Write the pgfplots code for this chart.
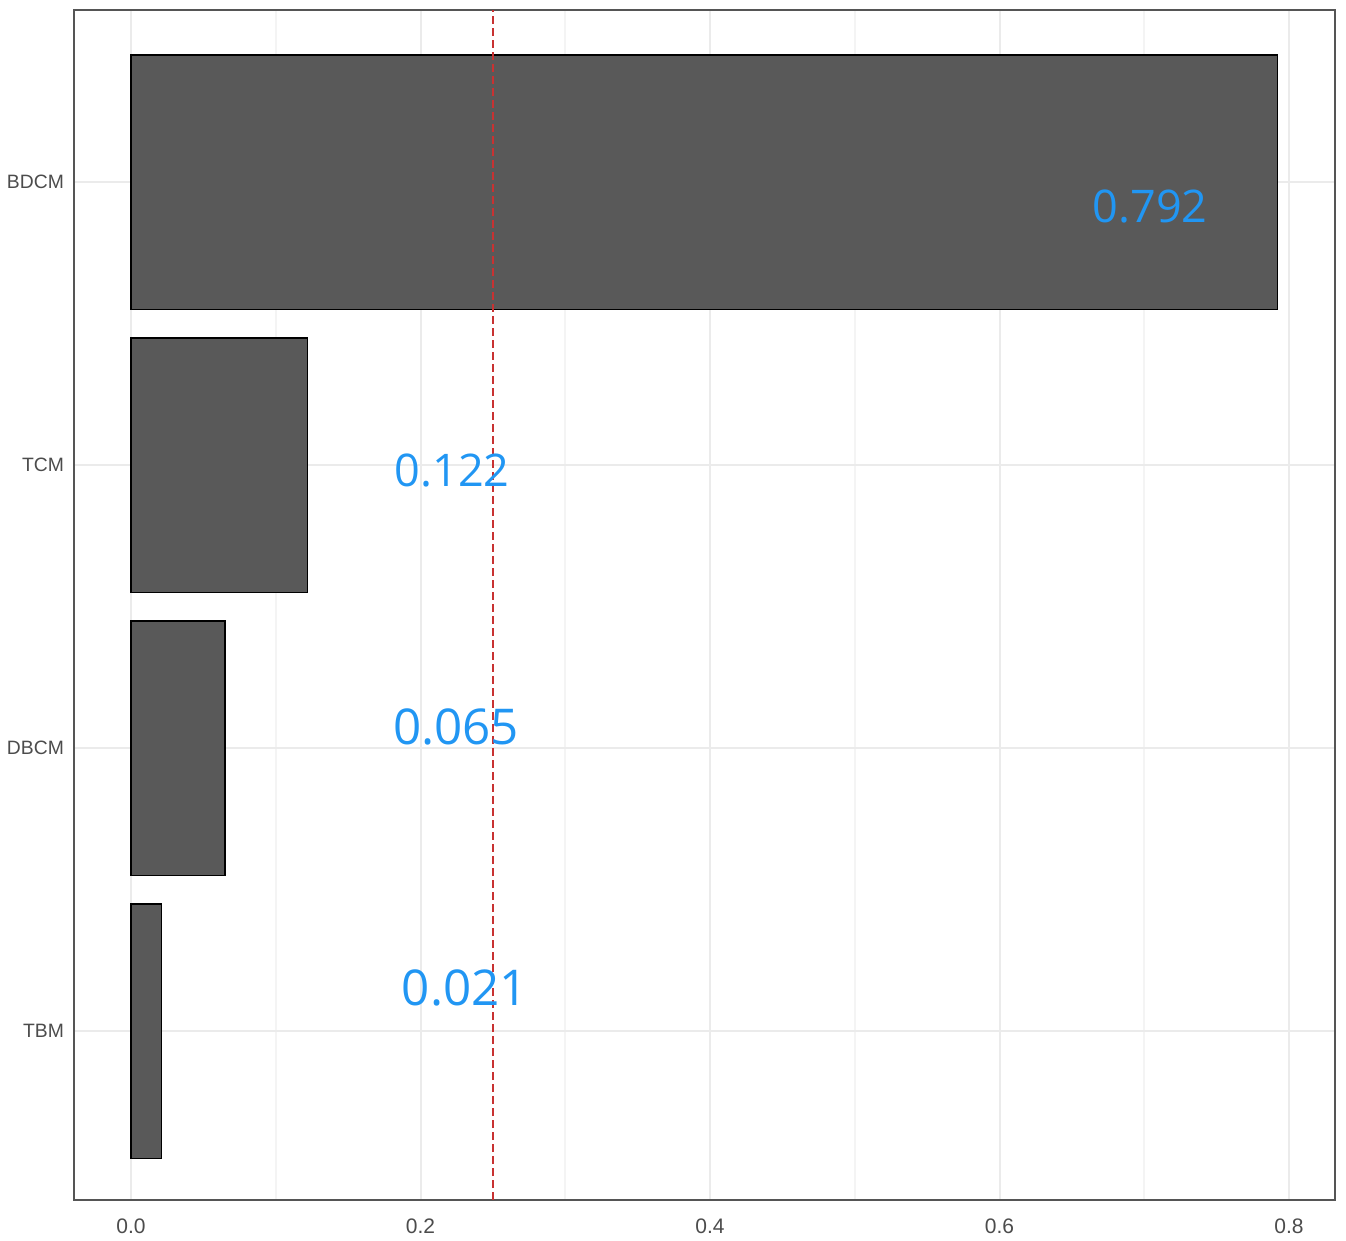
\documentclass[border=0pt]{standalone}
\usepackage{fontspec}
\setmainfont{Liberation Sans}
\newfontfamily\opensans{Open Sans}
\usepackage{pgfplots}
\pgfplotsset{compat=1.18}
\definecolor{barfill}{HTML}{595959}
\definecolor{gridmaj}{HTML}{EBEBEB}
\definecolor{gridmin}{HTML}{F4F4F4}
\definecolor{frame}{HTML}{555555}
\definecolor{lblblue}{HTML}{2196F3}
\definecolor{vline}{HTML}{C83232}
\begin{document}
\begin{tikzpicture}
\begin{axis}[
  scale only axis,
  width=378.3pt, height=357pt,
  xmin=-0.0394, xmax=0.8318,
  ymin=0.403, ymax=4.608,
  axis line style={frame, line width=0.8pt},
  xtick={0,0.2,0.4,0.6,0.8},
  minor xtick={0.1,0.3,0.5,0.7},
  ytick={1,2,3,4},
  yticklabels={TBM,DBCM,TCM,BDCM},
  xticklabel style={/pgf/number format/fixed, /pgf/number format/fixed zerofill, /pgf/number format/precision=1},
  /pgf/number format/assume math mode=true,
  tick label style={font=\fontsize{6.3}{7}\selectfont, text=black!70},
  yticklabel style={font=\fontsize{5.8}{7}\selectfont},
  major tick length=0pt, minor tick length=0pt,
  tick style={draw opacity=0, line width=0pt},
  xmajorgrids, ymajorgrids, xminorgrids,
  major grid style={gridmaj, line width=0.6pt, draw opacity=1},
  minor grid style={gridmin, line width=0.5pt, draw opacity=1},
  xticklabel shift=2pt,
  yticklabel shift=-0.5pt,
]
\addplot[xbar, bar width=0.9, fill=barfill, draw=black, line width=0.5pt]
  coordinates {(0.792,4) (0.122,3) (0.065,2) (0.021,1)};
\addplot[vline, line width=0.5pt, dash pattern=on 2.4pt off 1.2pt]
  coordinates {(0.25,0.403) (0.25,4.608)};
\node[text=lblblue, font=\opensans\fontsize{13.5}{15}\selectfont] at (axis cs:0.704,3.912) {0.792};
\node[text=lblblue, font=\opensans\fontsize{13.5}{15}\selectfont] at (axis cs:0.2218,2.98) {0.122};
\node[text=lblblue, font=\opensans\fontsize{14.8}{16}\selectfont] at (axis cs:0.2245,2.074) {0.065};
\node[text=lblblue, font=\opensans\fontsize{14.8}{16}\selectfont] at (axis cs:0.2307,1.152) {0.021};
\end{axis}
\pgfresetboundingbox
\path (-22.2pt,-12pt) rectangle (381.6pt,360pt);
\end{tikzpicture}
\end{document}
